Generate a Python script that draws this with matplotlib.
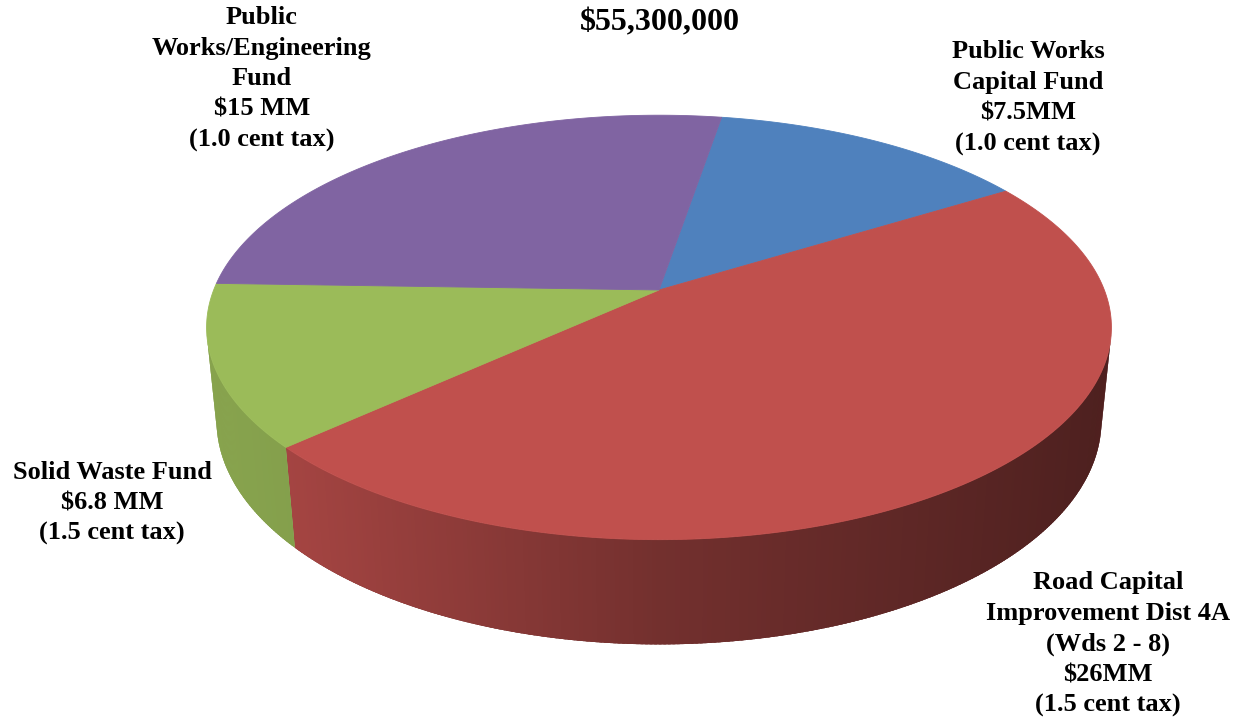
import numpy as np
import matplotlib.pyplot as plt
from matplotlib.patches import Polygon
from matplotlib.colors import to_rgb

# fund budgets in $ millions, drawn clockwise from the top
funds = ['Public Works\nCapital Fund',
         'Road Capital\nImprovement Dist 4A\n(Wds 2 - 8)',
         'Solid Waste Fund',
         'Public\nWorks/Engineering\nFund']
amounts = [7.5, 26.0, 6.8, 15.0]
amount_labels = ['$7.5MM', '$26MM', '$6.8 MM', '$15 MM']
tax_labels = ['(1.0 cent tax)', '(1.5 cent tax)', '(1.5 cent tax)', '(1.0 cent tax)']
total = 55300000

colors = ['#4f81bd', '#c0504d', '#9bbb59', '#8064a2']

# camera for the 3d pie
cx, cy = 659, 290
dist = 5.03
tilt = np.deg2rad(27.5)
focal = 2240
thick = 0.238
start = 9.5


def project(X, Y, Z):
    c, s = np.cos(tilt), np.sin(tilt)
    vy = Y - dist * c
    vz = Z - dist * s
    depth = -(vy * c + vz * s)
    up = -vy * s + vz * c
    return cx + focal * X / depth, cy - focal * up / depth


def rim(t, z):
    t = np.deg2rad(t)
    return project(np.sin(t), -np.cos(t), z * np.ones_like(t))


def side_poly(t0, t1, n):
    seg = np.linspace(t0, t1, n)
    tx, ty = rim(seg, 0)
    bx, by = rim(seg, -thick)
    return np.column_stack([np.concatenate([tx, bx[::-1]]),
                            np.concatenate([ty, by[::-1]])])


def side_shade(x):
    # rim gets darker from left to right
    return np.interp(x, [200, 300, 658, 1110], [0.88, 0.85, 0.60, 0.40])


fig = plt.figure(figsize=(12.38, 7.19), dpi=100)
ax = fig.add_axes([0, 0, 1, 1])
ax.set_xlim(0, 1238)
ax.set_ylim(719, 0)
ax.axis('off')

angles = np.cumsum([0] + amounts) / sum(amounts) * 360 + start

# only the front part of the rim faces the camera
vis = np.rad2deg(np.arccos(-1 / (dist * np.cos(tilt))))
vis_lo, vis_hi = vis - 1, 361 - vis

for i in range(len(amounts)):
    a0, a1 = max(angles[i], vis_lo), min(angles[i + 1], vis_hi)
    if a1 <= a0:
        continue
    base = np.array(to_rgb(colors[i]))
    # solid backing so the thin strips near the outline leave no gaps
    under = side_poly(a0, a1, 200)
    ax.add_patch(Polygon(under, closed=True, lw=0,
                         facecolor=base * side_shade(under[:, 0].mean())))
    edges = np.linspace(a0, a1, int((a1 - a0) * 2) + 2)
    step = edges[1] - edges[0]
    for t0, t1 in zip(edges[:-1], edges[1:]):
        pts = side_poly(t0, min(t1 + 0.6 * step, a1), 4)
        col = base * side_shade(pts[:, 0].mean())
        ax.add_patch(Polygon(pts, closed=True, facecolor=col, lw=0))

# top faces
for i in range(len(amounts)):
    t = np.linspace(angles[i], angles[i + 1], 200)
    ex, ey = rim(t, 0)
    ox, oy = project(0, 0, 0)
    xs = np.concatenate([[ox], ex])
    ys = np.concatenate([[oy], ey])
    ax.add_patch(Polygon(np.column_stack([xs, ys]), closed=True,
                         facecolor=colors[i], edgecolor=colors[i], lw=0.6))

font = dict(family='Liberation Serif', weight='bold', color='black')
ax.text(660, 23, '${:,}'.format(total), ha='center', va='center', fontsize=23, **font)

label_pos = [(1028, 98), (1108, 644), (112, 503), (262, 79)]
for i in range(len(amounts)):
    txt = funds[i] + '\n' + amount_labels[i] + '\n' + tax_labels[i]
    x, y = label_pos[i]
    ax.text(x, y, txt, ha='center', va='center', fontsize=19,
            linespacing=1.42, **font)

fig.savefig('out.png', dpi=100)
